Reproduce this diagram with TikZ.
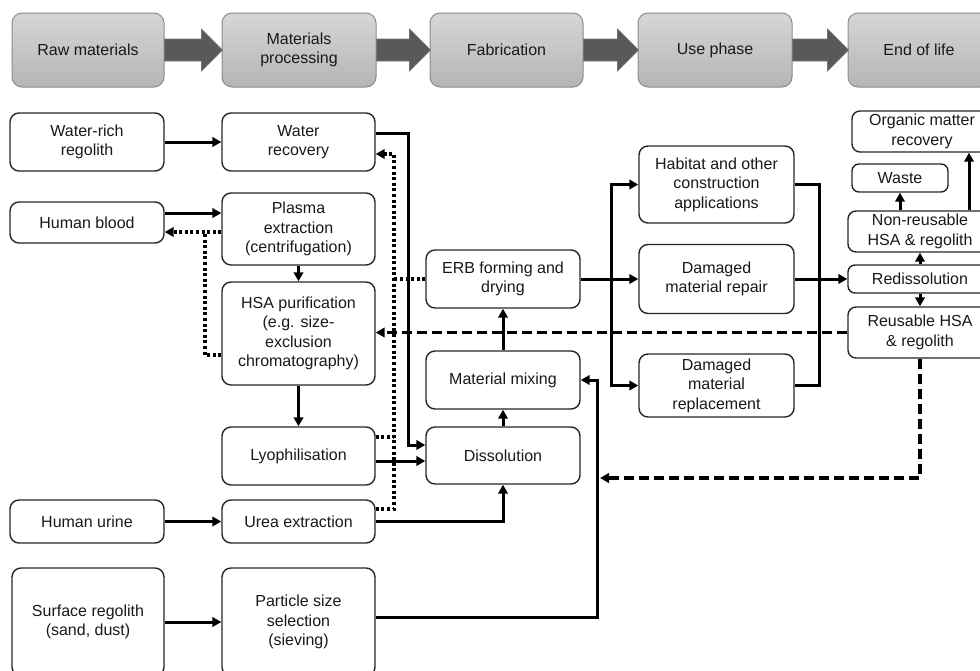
\documentclass[tikz,border=0pt]{standalone}
\usepackage{fontspec}
\setmainfont{Liberation Sans}
\usetikzlibrary{arrows.meta}
\begin{document}
\begin{tikzpicture}[x=1pt,y=-1pt,
  box/.style={draw=black!85, line width=1.4pt, rounded corners=9pt, align=center, inner sep=0pt,
    font=\fontsize{16}{19.5}\selectfont, text=black!90, fill=white},
  phase/.style={draw=black!45, line width=1pt, rounded corners=10pt, top color=black!16, bottom color=black!29,
    align=center, inner sep=0pt, font=\fontsize{16}{19}\selectfont, text=black!90,
    minimum width=153pt, minimum height=74pt},
  con/.style={line width=3pt, line join=miter},
  arr/.style={con, -{Triangle[length=9pt,width=9.5pt]}},
  dotl/.style={line width=3.2pt, dash pattern=on 3pt off 2.6pt},
  dotarr/.style={dotl, -{Triangle[length=9pt,width=9.5pt]}},
  dashl/.style={line width=3.2pt, dash pattern=on 10pt off 5pt},
  dasharr/.style={dashl, -{Triangle[length=9pt,width=9.5pt]}},
  bigarrow/.style={fill=black!65, draw=black!55, line width=0.6pt}]
\useasboundingbox (0,0) rectangle (980,670);
\clip (0,0) rectangle (980,670);

% phases
\node[phase, minimum width=152pt] (raw) at (88,50) {Raw materials};
\node[phase, minimum width=154pt] (proc) at (299,50) {Materials\\processing};
\node[phase] (fab) at (506.5,50) {Fabrication};
\node[phase, minimum width=154pt] (use) at (715,50) {Use phase};
\node[phase, minimum width=142pt] (eol) at (919,50) {End of life};

\fill[bigarrow] (raw.east) ++(0,-11) -- ++(37,0) -- ++(0,-10) -- ++(21,21) -- ++(-21,21) -- ++(0,-10) -- ++(-37,0) -- cycle;
\fill[bigarrow] (proc.east) ++(0,-11) -- ++(33,0) -- ++(0,-10) -- ++(21,21) -- ++(-21,21) -- ++(0,-10) -- ++(-33,0) -- cycle;
\fill[bigarrow] (fab.east) ++(0,-11) -- ++(34,0) -- ++(0,-10) -- ++(21,21) -- ++(-21,21) -- ++(0,-10) -- ++(-34,0) -- cycle;
\fill[bigarrow] (use.east) ++(0,-11) -- ++(35,0) -- ++(0,-10) -- ++(21,21) -- ++(-21,21) -- ++(0,-10) -- ++(-35,0) -- cycle;

% raw materials column
\node[box, minimum width=154pt, minimum height=58pt] (wrr) at (87,142) {Water-rich\\regolith};
\node[box, minimum width=154pt, minimum height=41pt] (blood) at (87,222.5) {Human blood};
\node[box, minimum width=154pt, minimum height=43pt] (urine) at (87,521.5) {Human urine};
\node[box, minimum width=152pt, minimum height=108pt] (surf) at (88,622) {Surface regolith\\(sand, dust)};

% processing column
\node[box, minimum width=153pt, minimum height=58pt] (wrec) at (298.5,142) {Water\\recovery};
\node[box, minimum width=153pt, minimum height=72pt] (plasma) at (298.5,229) {Plasma\\extraction\\(centrifugation)};
\node[box, minimum width=153pt, minimum height=103pt] (hsa) at (298.5,333.5) {HSA purification\\(e.g. size-\\exclusion\\chromatography)};
\node[box, minimum width=153pt, minimum height=58pt] (lyo) at (298.5,456) {Lyophilisation};
\node[box, minimum width=153pt, minimum height=43pt] (urea) at (298.5,521.5) {Urea extraction};
\node[box, minimum width=153pt, minimum height=108pt] (sieve) at (298.5,622) {Particle size\\selection\\(sieving)};

% fabrication column
\node[box, minimum width=154pt, minimum height=58pt] (erb) at (503,279) {ERB forming and\\drying};
\node[box, minimum width=154pt, minimum height=58pt] (mix) at (503,380) {Material mixing};
\node[box, minimum width=154pt, minimum height=57pt] (diss) at (503,455.5) {Dissolution};

% use phase column
\node[box, minimum width=155pt, minimum height=77pt] (hab) at (716.5,184.5) {Habitat and other\\construction\\applications};
\node[box, minimum width=155pt, minimum height=69pt] (rep) at (716.5,279) {Damaged\\material repair};
\node[box, minimum width=155pt, minimum height=63pt] (repl) at (716.5,385.5) {Damaged\\material\\replacement};

% end of life column
\node[box, rounded corners=8pt, minimum width=140pt, minimum height=41pt] (org) at (922,131.5) {Organic matter\\recovery};
\node[box, rounded corners=7pt, minimum width=96pt, minimum height=28pt] (waste) at (900,178) {Waste};
\node[box, rounded corners=8pt, minimum width=144pt, minimum height=41pt] (nonr) at (920,231.5) {Non-reusable\\HSA \& regolith};
\node[box, rounded corners=7pt, minimum width=144pt, minimum height=28pt] (redis) at (920,279) {Redissolution};
\node[box, rounded corners=8pt, minimum width=144pt, minimum height=51pt] (reus) at (920,332.5) {Reusable HSA\\\& regolith};

% connectors
\draw[arr] (wrr) -- (wrec);
\draw[arr] ([yshift=9pt]wrec.east) -| (408,445) -- ([yshift=10.5pt]diss.west);
\draw[dotarr] ([yshift=12.5pt]urea.east) -| (394,154) -- ([yshift=-12pt]wrec.east);
\draw[dotl] ([yshift=19pt]lyo.east) -- (394,437);
\draw[dotl] (erb.west) -- (394,279);

\draw[arr] ([yshift=9.5pt]blood.east) -- ([yshift=9.5pt]blood.east -| plasma.west);
\draw[dotarr] ([yshift=-3pt]plasma.west) -- ([yshift=-3pt]plasma.west -| blood.east);
\draw[dotl] ([yshift=-21.5pt]hsa.west) -| (205,232);
\draw[arr] (plasma) -- (hsa);
\draw[arr] (hsa) -- (lyo);
\draw[arr] ([yshift=-5pt]lyo.east) -- ([yshift=-5pt]lyo.east -| diss.west);
\draw[arr] (urine) -- (urea);
\draw[arr] (urea.east) -| (diss.south);
\draw[arr] (surf) -- (sieve);
\draw[arr] ([yshift=5pt]sieve.east) -| (597,380) -- (mix.east);
\draw[arr] (diss) -- (mix);
\draw[arr] (mix) -- (erb);

\draw[arr] (erb) -- (rep);
\draw[arr] (611,279) |- (hab.west);
\draw[arr] (611,279) |- (repl.west);
\draw[con] (hab.east) -| (819,385.5) -- (repl.east);
\draw[arr] (rep) -- (redis);

\draw[arr] (redis) -- (nonr);
\draw[arr] (redis) -- (reus);
\draw[arr] (waste.south |- nonr.north) -- (waste.south);
\draw[arr] ([xshift=49pt]nonr.north) -- ([xshift=49pt]nonr.north |- org.south);

\draw[dasharr] (reus.west) -- (reus.west -| hsa.east);
\draw[dasharr] (reus.south) |- (600,478);
\end{tikzpicture}
\end{document}
